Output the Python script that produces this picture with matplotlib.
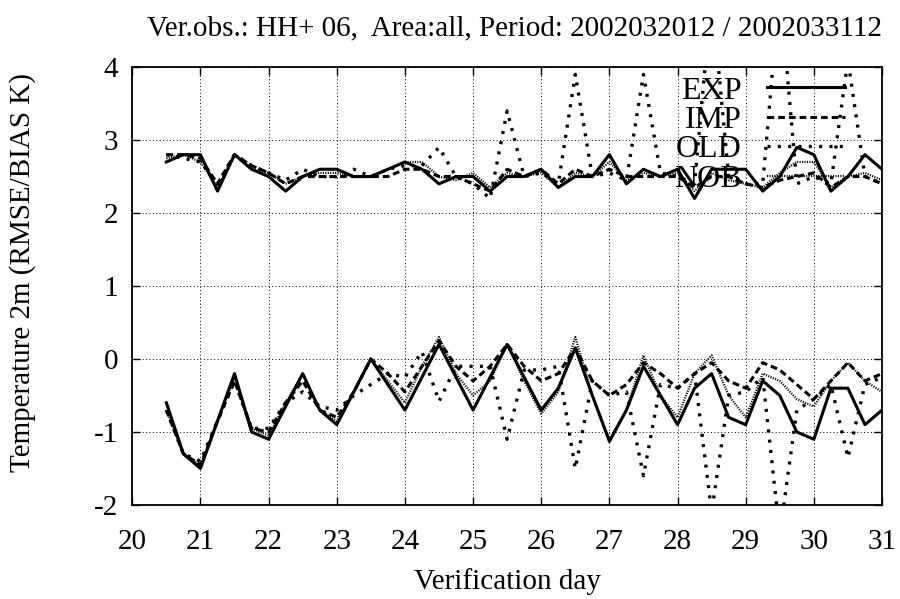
import matplotlib
matplotlib.use("Agg")
import matplotlib.pyplot as plt

plt.rcParams['font.family'] = ['Liberation Serif', 'DejaVu Serif']
plt.rcParams['axes.unicode_minus'] = False

# verification time (day of month, 6-hourly)
days = [20.5, 20.75, 21.0, 21.25, 21.5, 21.75, 22.0, 22.25, 22.5, 22.75,
        23.0, 23.25, 23.5, 23.75, 24.0, 24.25, 24.5, 24.75, 25.0, 25.25,
        25.5, 25.75, 26.0, 26.25, 26.5, 26.75, 27.0, 27.25, 27.5, 27.75,
        28.0, 28.25, 28.5, 28.75, 29.0, 29.25, 29.5, 29.75, 30.0, 30.25,
        30.5, 30.75, 31.0]

# RMSE
exp_rmse = [2.7, 2.8, 2.8, 2.3, 2.8, 2.6, 2.5, 2.3, 2.5, 2.6,
            2.6, 2.5, 2.5, 2.6, 2.7, 2.6, 2.4, 2.5, 2.5, 2.3,
            2.5, 2.5, 2.6, 2.35, 2.5, 2.5, 2.8, 2.4, 2.6, 2.5,
            2.6, 2.2, 2.6, 2.6, 2.6, 2.3, 2.5, 2.9, 2.8, 2.3,
            2.5, 2.8, 2.6]
imp_rmse = [2.8, 2.8, 2.75, 2.4, 2.8, 2.65, 2.55, 2.4, 2.5, 2.5,
            2.5, 2.5, 2.5, 2.5, 2.6, 2.6, 2.5, 2.5, 2.4, 2.3,
            2.6, 2.5, 2.6, 2.4, 2.6, 2.5, 2.6, 2.5, 2.5, 2.5,
            2.5, 2.35, 2.5, 2.5, 2.4, 2.35, 2.45, 2.5, 2.55, 2.35,
            2.5, 2.5, 2.4]
old_rmse = [2.8, 2.75, 2.7, 2.4, 2.8, 2.65, 2.55, 2.45, 2.6, 2.5,
            2.5, 2.6, 2.5, 2.6, 2.65, 2.65, 2.9, 2.5, 2.4, 2.2,
            3.4, 2.5, 2.55, 2.4, 3.9, 2.5, 2.55, 2.45, 3.9, 2.55,
            2.5, 2.4, 5.0, 2.5, 2.4, 2.4, 5.1, 2.4, 2.5, 2.4,
            4.1, 2.5, 2.4]
nob_rmse = [2.75, 2.8, 2.7, 2.35, 2.8, 2.6, 2.55, 2.4, 2.5, 2.55,
            2.55, 2.5, 2.5, 2.6, 2.7, 2.7, 2.5, 2.45, 2.55, 2.35,
            2.55, 2.5, 2.55, 2.35, 2.55, 2.5, 2.7, 2.45, 2.55, 2.5,
            2.55, 2.3, 2.55, 2.45, 2.4, 2.35, 2.55, 2.7, 2.7, 2.35,
            2.5, 2.55, 2.45]

# BIAS
exp_bias = [-0.6, -1.3, -1.5, -0.85, -0.2, -1.0, -1.1, -0.65, -0.2, -0.7,
            -0.9, -0.45, 0.0, -0.35, -0.7, -0.25, 0.2, -0.25, -0.7, -0.25,
            0.2, -0.25, -0.7, -0.4, 0.15, -0.5, -1.13, -0.7, -0.1, -0.5,
            -0.9, -0.4, -0.2, -0.8, -0.9, -0.3, -0.5, -1.0, -1.1, -0.4,
            -0.4, -0.9, -0.7]
imp_bias = [-0.7, -1.3, -1.45, -0.85, -0.3, -0.95, -1.0, -0.6, -0.3, -0.7,
            -0.8, -0.45, 0.0, -0.2, -0.45, -0.1, 0.25, -0.1, -0.3, -0.1,
            0.2, -0.1, -0.3, -0.2, 0.15, -0.3, -0.5, -0.35, -0.05, -0.2,
            -0.4, -0.2, -0.05, -0.3, -0.4, -0.05, -0.15, -0.35, -0.55, -0.3,
            -0.05, -0.3, -0.2]
old_bias = [-0.7, -1.3, -1.4, -0.85, -0.3, -0.95, -0.95, -0.6, -0.45, -0.65,
            -0.7, -0.5, -0.35, -0.2, -0.25, 0.1, -0.58, -0.1, -0.1, -0.1,
            -1.1, -0.15, -0.15, -0.1, -1.5, -0.3, -0.5, -0.45, -1.6, -0.35,
            -0.4, -0.2, -2.1, -0.5, -0.45, -0.25, -2.4, -0.7, -0.55, -0.35,
            -1.35, -0.35, -0.25]
nob_bias = [-0.7, -1.3, -1.45, -0.85, -0.25, -0.95, -1.05, -0.6, -0.2, -0.7,
            -0.85, -0.45, 0.0, -0.3, -0.6, -0.1, 0.3, -0.2, -0.5, -0.3,
            0.2, -0.3, -0.75, -0.45, 0.3, -0.5, -1.1, -0.7, 0.05, -0.5,
            -0.8, -0.2, 0.05, -0.5, -0.8, -0.2, -0.3, -0.55, -0.65, -0.3,
            -0.05, -0.3, -0.45]

x_ticks = [20, 21, 22, 23, 24, 25, 26, 27, 28, 29, 30, 31]
y_ticks = [-2, -1, 0, 1, 2, 3, 4]

styles = {
    'EXP': dict(linestyle='-', linewidth=2.2),
    'IMP': dict(linestyle=(0, (2.2, 1.3)), linewidth=2.2),
    'OLD': dict(linestyle=(0, (0.9, 2.2)), linewidth=2.4),
    'NOB': dict(linestyle=(0, (0.5, 0.6)), linewidth=1.6),
}

fig = plt.figure(figsize=(9, 5.99), dpi=100)
ax = fig.add_axes([0.147, 0.157, 0.833, 0.731])

series = [('EXP', exp_rmse, exp_bias), ('IMP', imp_rmse, imp_bias),
          ('OLD', old_rmse, old_bias), ('NOB', nob_rmse, nob_bias)]
for name, rmse, bias in series:
    ax.plot(days, rmse, color='black', label=name, **styles[name])
    ax.plot(days, bias, color='black', **styles[name])

ax.set_xlim(20, 31)
ax.set_ylim(-2, 4)
ax.set_xticks(x_ticks)
ax.set_yticks(y_ticks)
ax.set_xticklabels([str(t) for t in x_ticks])
ax.set_yticklabels([str(t) for t in y_ticks])
ax.grid(True, color='black', linestyle=(0, (1, 2.5)), linewidth=0.7)
ax.tick_params(direction='in', length=6, width=1, top=True, right=True,
               labelsize=21)
ax.tick_params(axis='x', pad=17)
ax.tick_params(axis='y', pad=10)
for sp in ax.spines.values():
    sp.set_linewidth(1.3)

ax.set_xlabel('Verification day', fontsize=21, labelpad=10)
ax.set_ylabel('Temperature 2m (RMSE/BIAS K)', fontsize=21)
ax.yaxis.set_label_coords(-0.128, 0.532)
fig.text(0.572, 0.953, 'Ver.obs.: HH+ 06,  Area:all, Period: 2002032012 / 2002033112',
         fontsize=21, ha='center', va='center')

ax.legend(loc='upper right', bbox_to_anchor=(0.951, 0.979), frameon=False,
          markerfirst=False, fontsize=23, handlelength=2.45, handletextpad=0.8,
          labelspacing=0.0, borderpad=0.0, borderaxespad=0.0)

fig.savefig('out.png', dpi=100)
